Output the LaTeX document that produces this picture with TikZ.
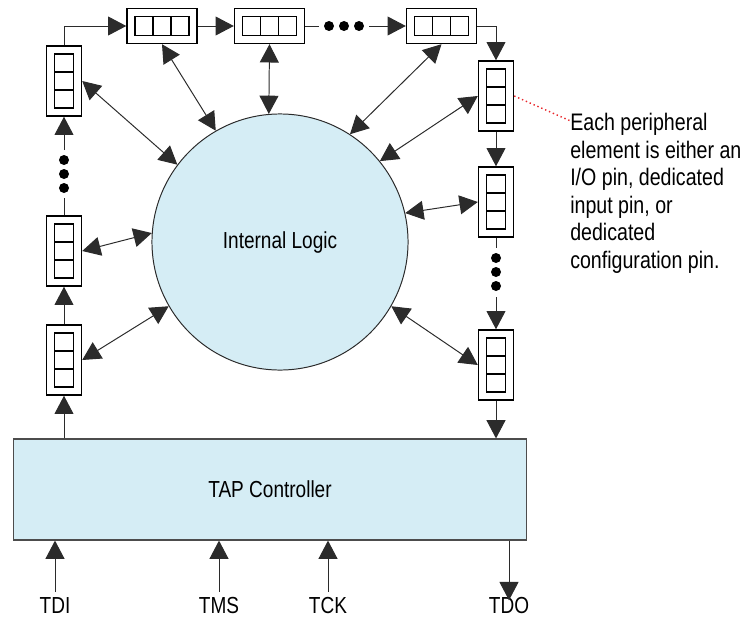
\documentclass[tikz,border=0pt]{standalone}
\usepackage{fontspec}
\setmainfont{Liberation Sans}[FakeStretch=0.82]
\usetikzlibrary{calc}
\usetikzlibrary{positioning}
\usetikzlibrary{arrows.meta}
\definecolor{logicColor}{HTML}{D5EDF5}
\definecolor{lineColor}{HTML}{2B2B2B}
\definecolor{noteColor}{HTML}{E8262B}

\begin{document}
\begin{tikzpicture}[x=0.025cm, y=-0.025cm, >={Triangle[length=13pt,width=13.5pt]},
    every node/.style={font=\fontsize{16.5}{19.6}\selectfont}]
    \tikzset{
        pinv/.style={draw, line width=1pt, fill=white, inner sep=0pt,
            minimum width=0.875cm, minimum height=1.75cm,
            path picture={
                \coordinate (pc) at (path picture bounding box.center);
                \draw[line width=0.9pt] (pc) +(-0.2375cm,-0.675cm) rectangle +(0.2375cm,0.675cm);
                \draw[line width=0.9pt] (pc) +(-0.2375cm,-0.225cm) -- +(0.2375cm,-0.225cm);
                \draw[line width=0.9pt] (pc) +(-0.2375cm,0.225cm) -- +(0.2375cm,0.225cm);
            }},
        pinh/.style={draw, line width=1pt, fill=white, inner sep=0pt,
            minimum width=1.75cm, minimum height=0.875cm,
            path picture={
                \coordinate (pc) at (path picture bounding box.center);
                \draw[line width=0.9pt] (pc) +(-0.675cm,-0.2375cm) rectangle +(0.675cm,0.2375cm);
                \draw[line width=0.9pt] (pc) +(-0.225cm,-0.2375cm) -- +(-0.225cm,0.2375cm);
                \draw[line width=0.9pt] (pc) +(0.225cm,-0.2375cm) -- +(0.225cm,0.2375cm);
            }},
        logic/.style={circle, draw=lineColor, line width=0.7pt, fill=logicColor,
            minimum size=6.4cm, inner sep=0pt},
        tap/.style={draw=black!70, line width=0.8pt, fill=logicColor,
            minimum width=12.8cm, minimum height=2.525cm, inner sep=0pt},
        pinlbl/.style={anchor=base},
        note/.style={align=left, inner sep=0pt, anchor=north west,
            font=\fontsize{17}{19.6}\selectfont},
        wire/.style={draw=lineColor, line width=0.7pt},
        link/.style={wire, <->}
    }
    \useasboundingbox (0,0) rectangle (742,618);

    % core and controller
    \node[logic] (core) at (280,242) {Internal Logic};
    \node[tap] (tap) at (270,489.5) {TAP Controller};

    % boundary scan cells
    \node[pinv] (l1) at (64,81) {};
    \node[pinv] (l2) at (64,251) {};
    \node[pinv] (l3) at (64,360) {};
    \node[pinh] (t1) at (162,26) {};
    \node[pinh] (t2) at (269.5,26) {};
    \node[pinh] (t3) at (441.5,26) {};
    \node[pinv] (r1) at (496,96) {};
    \node[pinv] (r2) at (496,202) {};
    \node[pinv] (r3) at (496,365) {};

    % pins
    \node[pinlbl] (tdi) at (55,613) {TDI};
    \node[pinlbl] (tms) at (219,613) {TMS};
    \node[pinlbl] (tck) at (328,613) {TCK};
    \node[pinlbl] (tdo) at (509,613) {TDO};

    % ellipsis dots
    \coordinate (ldA) at (64,198);
    \coordinate (ldB) at (64,150);
    \coordinate (tdA) at (319,26);
    \coordinate (tdB) at (369,26);
    \coordinate (rdA) at (496,248);
    \coordinate (rdB) at (496,297);
    \foreach \y in {160,174,188} \fill (64,\y) circle (0.125cm);
    \foreach \x in {329,344,359} \fill (\x,26) circle (0.125cm);
    \foreach \y in {258,272,286} \fill (496,\y) circle (0.125cm);

    % scan chain
    \draw[wire,->] (tap.north -| l3) -- (l3.south);
    \draw[wire,->] (l3.north) -- (l2.south);
    \draw[wire] (l2.north) -- (ldA);
    \draw[wire,->] (ldB) -- (l1.south);
    \draw[wire,->] (l1.north) |- (t1.west);
    \draw[wire,->] (t1.east) -- (t2.west);
    \draw[wire] (t2.east) -- (tdA);
    \draw[wire,->] (tdB) -- (t3.west);
    \draw[wire,->] (t3.east) -| (r1.north);
    \draw[wire,->] (r1.south) -- (r2.north);
    \draw[wire] (r2.south) -- (rdA);
    \draw[wire,->] (rdB) -- (r3.north);
    \draw[wire,->] (r3.south) -- (tap.north -| r3);

    % cells to internal logic
    \draw[link] (l1.east) -- (core.143);
    \draw[link] (t1.south) -- (core.120);
    \draw[link] (t2.south) -- (core.95);
    \draw[link] (t3.south) -- (core.57);
    \draw[link] (r1.west) -- (core.39);
    \draw[link] (r2.west) -- (core.13);
    \draw[link] (r3.west) -- (core.-30);
    \draw[link] (l2.east) -- (core.176);
    \draw[link] (l3.east) -- (core.210);

    % jtag pins
    \draw[wire,->] (tdi.north) -- (tap.south -| tdi);
    \draw[wire,->] (tms.north) -- (tap.south -| tms);
    \draw[wire,->] (tck.north) -- (tap.south -| tck);
    \draw[wire,->,shorten >=-6pt] (tap.south -| tdo) -- (tdo.north);

    % annotation
    \node[note] (remark) at (570,113) {Each peripheral\\element is either an\\I/O pin, dedicated\\input pin, or\\dedicated\\configuration pin.};
    \draw[noteColor, dotted, line width=1pt] (r1.east) -- ([yshift=-5.5pt]remark.north west);
\end{tikzpicture}
\end{document}
